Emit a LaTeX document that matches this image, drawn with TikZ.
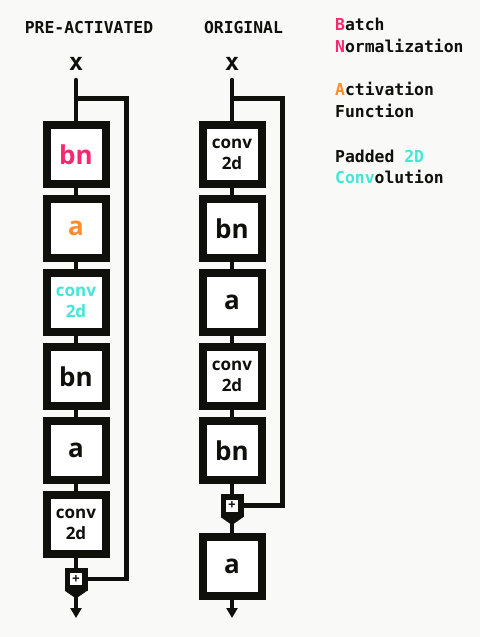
\documentclass[tikz,border=0pt]{standalone}
\usepackage{fontspec}
\newfontfamily\codefont{DejaVu Sans Mono}
\newfontfamily\boxfont{Open Sans}
\usetikzlibrary{arrows.meta,positioning,calc}
\definecolor{ink}{HTML}{0F0F0B}
\definecolor{paper}{HTML}{F9F9F7}
\definecolor{bnpink}{HTML}{FF2670}
\definecolor{actorange}{HTML}{FF8C2A}
\definecolor{convcyan}{HTML}{40E8D8}

\begin{document}
\begin{tikzpicture}[
  x=1pt, y=-1pt,
  title/.style={anchor=base, inner sep=0pt, text=ink, font=\codefont\bfseries\fontsize{16.4}{18}\selectfont},
  legend/.style={anchor=base west, inner sep=0pt, text=ink, font=\codefont\bfseries\fontsize{16.4}{18}\selectfont},
  inlabel/.style={anchor=base, inner sep=0pt, text=ink, font=\codefont\bfseries\fontsize{24}{26}\selectfont},
  layer/.style={rectangle, draw=ink, line width=8pt, fill=white, minimum size=59pt, inner sep=0pt, align=center, text=ink, font=\boxfont\bfseries\fontsize{26}{28}\selectfont},
  convtext/.style={font=\boxfont\bfseries\fontsize{17}{21}\selectfont},
  addnode/.style={rectangle, draw=ink, line width=5.5pt, fill=white, minimum size=17.5pt, inner sep=0pt, text=ink, font=\codefont\bfseries\fontsize{12}{12}\selectfont},
  wire/.style={draw=ink, line width=4.5pt, line join=miter},
  outtip/.style={-{Triangle[width=11pt,length=10pt]}}
]
\useasboundingbox[fill=paper] (0,0) rectangle (480,637);

% titles and inputs
\node[title] (ttlL) at (89,33) {PRE-ACTIVATED};
\node[title] (ttlR) at (243.5,33) {ORIGINAL};
\node[inlabel] (xL) at (76,70) {x};
\node[inlabel] (xR) at (232,70) {x};

% pre-activated block
\node[layer,text=bnpink] (bnL1) at (76,154.5) {bn};
\node[layer,text=actorange] (aL1) at (76,228.5) {a};
\node[layer,convtext,text=convcyan] (cvL1) at (76,302.5) {conv\\2d};
\node[layer] (bnL2) at (76,376.5) {bn};
\node[layer] (aL2) at (76,450.5) {a};
\node[layer,convtext] (cvL2) at (76,524.5) {conv\\2d};
\node[addnode] (addL) at (76,579) {+};
\coordinate (splitL) at (76,98.5);
\coordinate (turnL) at (126.7,98.5);
\coordinate (outL) at (76,618);

% original block
\node[layer,convtext] (cvR1) at (232,154.5) {conv\\2d};
\node[layer] (bnR1) at (232,228.5) {bn};
\node[layer] (aR1) at (232,302.5) {a};
\node[layer,convtext] (cvR2) at (232,376.5) {conv\\2d};
\node[layer] (bnR2) at (232,450.5) {bn};
\node[addnode] (addR) at (232,505.5) {+};
\node[layer] (aR2) at (232,566) {a};
\coordinate (splitR) at (232,98.5);
\coordinate (turnR) at (282.5,98.5);
\coordinate (outR) at (232,618);

% spouts under the adders
\fill[ink] (addL.south west) -- (addL.south east) -- ($(addL.south)+(0,8)$) -- cycle;
\fill[ink] (addR.south west) -- (addR.south east) -- ($(addR.south)+(0,8)$) -- cycle;

% wires, left
\draw[wire,line cap=round] ([yshift=-10pt]xL.base) -- (bnL1.north);
\draw[wire] (bnL1.south) -- (aL1.north);
\draw[wire] (aL1.south) -- (cvL1.north);
\draw[wire] (cvL1.south) -- (bnL2.north);
\draw[wire] (bnL2.south) -- (aL2.north);
\draw[wire] (aL2.south) -- (cvL2.north);
\draw[wire] (cvL2.south) -- (addL.north);
\draw[wire] (splitL) -- (turnL) |- (addL.east);
\draw[wire,outtip] (addL.south) -- (outL);

% wires, right
\draw[wire,line cap=round] ([yshift=-10pt]xR.base) -- (cvR1.north);
\draw[wire] (cvR1.south) -- (bnR1.north);
\draw[wire] (bnR1.south) -- (aR1.north);
\draw[wire] (aR1.south) -- (cvR2.north);
\draw[wire] (cvR2.south) -- (bnR2.north);
\draw[wire] (bnR2.south) -- (addR.north);
\draw[wire] (splitR) -- (turnR) |- (addR.east);
\draw[wire] (addR.south) -- (aR2.north);
\draw[wire,outtip] (aR2.south) -- (outR);

% legend
\node[legend] (bnTxtA) at (335,30) {\textcolor{bnpink}{B}atch};
\node[legend] (bnTxtB) at (335,52) {\textcolor{bnpink}{N}ormalization};
\node[legend] (actTxtA) at (335,95) {\textcolor{actorange}{A}ctivation};
\node[legend] (actTxtB) at (335,117) {Function};
\node[legend] (cvTxtA) at (335,162) {Padded \textcolor{convcyan}{2D}};
\node[legend] (cvTxtB) at (335,183) {\textcolor{convcyan}{Conv}olution};
\end{tikzpicture}
\end{document}
